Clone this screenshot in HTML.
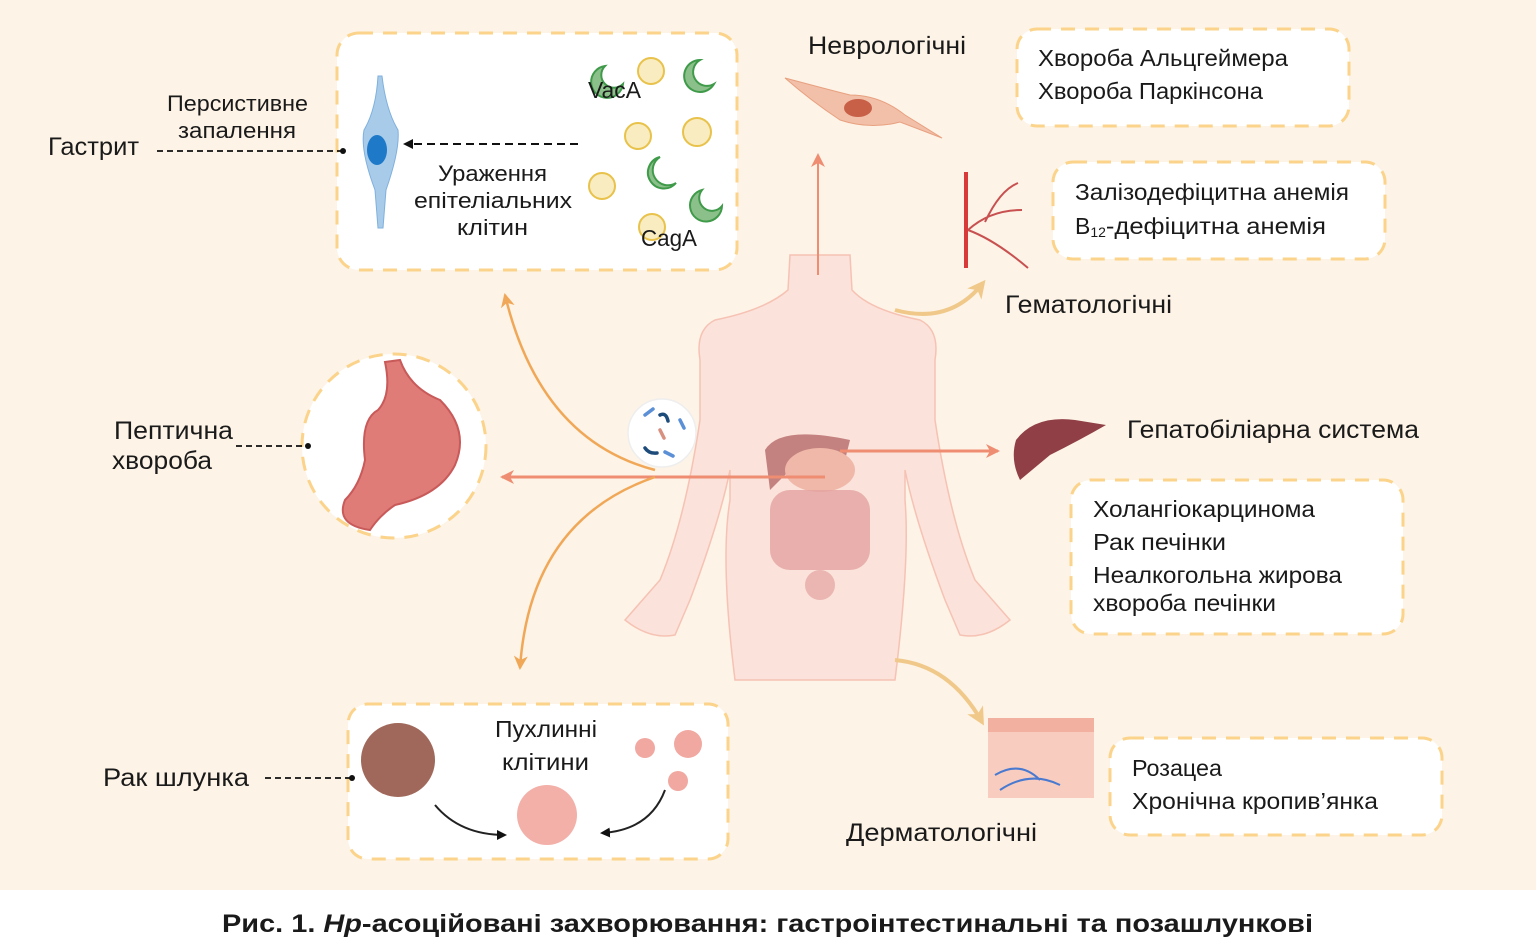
<!DOCTYPE html>
<html><head><meta charset="utf-8"><style>
html,body{margin:0;padding:0;width:1536px;height:940px;overflow:hidden;background:#fff}
svg{display:block}
text{font-family:"Liberation Sans","DejaVu Sans",sans-serif;fill:#1a1a1a}
</style></head><body>
<svg width="1536" height="940" viewBox="0 0 1536 940" xmlns="http://www.w3.org/2000/svg">
<defs>
<marker id="ab" markerWidth="10" markerHeight="10" refX="8" refY="5" orient="auto" markerUnits="userSpaceOnUse"><path d="M0,0 L10,5 L0,10 z" fill="#111"/></marker>
<marker id="ao" markerWidth="16" markerHeight="14" refX="12" refY="7" orient="auto" markerUnits="userSpaceOnUse"><path d="M0,0 L14,7 L0,14 L4,7 z" fill="#f0a858"/></marker>
<marker id="ar" markerWidth="16" markerHeight="14" refX="12" refY="7" orient="auto" markerUnits="userSpaceOnUse"><path d="M0,0 L14,7 L0,14 L4,7 z" fill="#ee8d72"/></marker>
<marker id="ay" markerWidth="20" markerHeight="18" refX="14" refY="9" orient="auto" markerUnits="userSpaceOnUse"><path d="M0,0 L18,9 L0,18 L5,9 z" fill="#f0c98a"/></marker>
</defs>
<rect x="0" y="0" width="1536" height="890" fill="#fdf3e6"/>

<!-- body -->
<g fill="#fbe2da" stroke="#f6c2b4" stroke-width="1.5">
<path d="M790,255 L850,255 L852,290 Q870,310 920,320 Q940,330 935,360 L935,420 Q950,520 975,580 L1010,620 Q985,640 960,635 L945,600 Q915,520 905,470 L905,500 Q910,560 895,680 L735,680 Q720,560 730,500 L730,470 Q720,520 690,600 L675,635 Q650,640 625,620 L660,580 Q685,520 700,420 L700,360 Q695,330 715,320 Q765,310 788,290 Z"/>
</g>
<path d="M765,450 Q780,425 850,440 L845,460 Q810,470 790,470 L770,490 Z" fill="#b8706e" opacity="0.85"/>
<ellipse cx="820" cy="470" rx="35" ry="22" fill="#f0b8a8"/>
<rect x="770" y="490" width="100" height="80" rx="20" fill="#e4a2a0" opacity="0.8"/>
<ellipse cx="820" cy="585" rx="15" ry="15" fill="#e4a2a0" opacity="0.7"/>

<!-- connector lines -->
<line x1="818" y1="275" x2="818" y2="155" stroke="#ee8d72" stroke-width="2" marker-end="url(#ar)"/>
<line x1="840" y1="451" x2="998" y2="451" stroke="#ee8d72" stroke-width="3" marker-end="url(#ar)"/>
<line x1="825" y1="477" x2="502" y2="477" stroke="#ee8d72" stroke-width="3" marker-end="url(#ar)"/>
<path d="M655,470 Q540,440 505,295" fill="none" stroke="#f0a858" stroke-width="2.5" marker-end="url(#ao)"/>
<path d="M655,477 Q530,520 520,668" fill="none" stroke="#f0a858" stroke-width="2.5" marker-end="url(#ao)"/>
<path d="M895,310 Q950,325 983,283" fill="none" stroke="#f0c98a" stroke-width="4" marker-end="url(#ay)"/>
<path d="M895,660 Q950,665 982,722" fill="none" stroke="#f0c98a" stroke-width="4" marker-end="url(#ay)"/>

<circle cx="662" cy="433" r="34" fill="#fff" stroke="#eee" stroke-width="1.5"/>
<g stroke-width="3.5" fill="none" stroke-linecap="round">
<path d="M645,415 l8,-6" stroke="#5b8fd6"/><path d="M680,420 l4,8" stroke="#5b8fd6"/><path d="M665,452 l8,4" stroke="#5b8fd6"/>
<path d="M660,415 q6,-3 8,6" stroke="#1d4c7a"/><path d="M645,448 q4,6 12,5" stroke="#1d4c7a"/><path d="M660,430 l4,8" stroke="#d89080"/>
</g>

<!-- top box -->
<rect x="337" y="33" width="400" height="237" rx="22" fill="#fff" stroke="#fbd38a" stroke-width="3" stroke-dasharray="14,10"/>
<path d="M382,76 Q386,110 398,130 Q400,150 386,190 L383,228 L378,228 L375,190 Q360,150 364,130 Q376,110 378,76 Z" fill="#a8cbea" stroke="#7fb0dc"/>
<ellipse cx="377" cy="150" rx="10" ry="15" fill="#1e7ac8"/>
<line x1="578" y1="144" x2="405" y2="144" stroke="#111" stroke-width="2" stroke-dasharray="8,5" marker-end="url(#ab)"/>
<g fill="#f9ecc0" stroke="#e8c24a" stroke-width="2">
<circle cx="651" cy="71" r="13"/><circle cx="638" cy="136" r="13"/><circle cx="697" cy="132" r="14"/><circle cx="602" cy="186" r="13"/><circle cx="652" cy="227" r="13"/>
</g>
<g fill="#8cc08a" stroke="#3f9a4a" stroke-width="2">
<path d="M605,66 a16,16 0 1,0 18,18 a9,9 0 0,1 -18,-18z"/>
<path d="M700,60 a16,16 0 1,0 14,24 a9,9 0 0,1 -14,-24z"/>
<path d="M660,157 a16,16 0 1,0 16,26 a9,9 0 0,1 -16,-26z"/>
<path d="M702,190 a16,16 0 1,0 20,16 a9,9 0 0,1 -20,-16z"/>
</g>
<g lengthAdjust="spacingAndGlyphs">
<text x="588" y="98" font-size="23" textLength="53" lengthAdjust="spacingAndGlyphs">VacA</text>
<text x="641" y="246" font-size="23" textLength="56" lengthAdjust="spacingAndGlyphs">CagA</text>
<text x="438" y="181" font-size="22" textLength="109" lengthAdjust="spacingAndGlyphs">Ураження</text>
<text x="414" y="208" font-size="22" textLength="158" lengthAdjust="spacingAndGlyphs">епітеліальних</text>
<text x="457" y="235" font-size="22" textLength="71" lengthAdjust="spacingAndGlyphs">клітин</text>
<text x="167" y="111" font-size="22" textLength="141" lengthAdjust="spacingAndGlyphs">Персистивне</text>
<text x="178" y="138" font-size="22" textLength="118" lengthAdjust="spacingAndGlyphs">запалення</text>
<text x="48" y="155" font-size="25" textLength="91" lengthAdjust="spacingAndGlyphs">Гастрит</text>
</g>
<line x1="157" y1="151" x2="343" y2="151" stroke="#111" stroke-width="1.8" stroke-dasharray="6,4"/>
<circle cx="343" cy="151" r="3" fill="#111"/>

<!-- stomach -->
<circle cx="394" cy="446" r="92" fill="#fff" stroke="#fbd38a" stroke-width="3" stroke-dasharray="14,10"/>
<path d="M385,362 Q392,395 378,410 Q360,420 365,460 Q360,485 345,500 Q335,525 370,530 Q380,515 395,505 Q440,495 455,465 Q470,430 440,400 Q410,388 400,360 Z" fill="#e07c78" stroke="#c85a5a" stroke-width="2"/>
<text x="114" y="439" font-size="25" textLength="119" lengthAdjust="spacingAndGlyphs">Пептична</text>
<text x="112" y="469" font-size="25" textLength="100" lengthAdjust="spacingAndGlyphs">хвороба</text>
<line x1="236" y1="446" x2="308" y2="446" stroke="#111" stroke-width="1.8" stroke-dasharray="6,4"/>
<circle cx="308" cy="446" r="3" fill="#111"/>

<!-- bottom box -->
<rect x="348" y="704" width="380" height="155" rx="20" fill="#fff" stroke="#fbd38a" stroke-width="3" stroke-dasharray="14,10"/>
<circle cx="398" cy="760" r="37" fill="#a0685a"/>
<circle cx="547" cy="815" r="30" fill="#f2b0a8"/>
<circle cx="645" cy="748" r="10" fill="#f0a8a0"/><circle cx="688" cy="744" r="14" fill="#f0a8a0"/><circle cx="678" cy="781" r="10" fill="#f0a8a0"/>
<path d="M435,805 Q460,835 505,835" fill="none" stroke="#222" stroke-width="2" marker-end="url(#ab)"/>
<path d="M665,790 Q650,830 602,833" fill="none" stroke="#222" stroke-width="2" marker-end="url(#ab)"/>
<text x="495" y="737" font-size="23" textLength="102" lengthAdjust="spacingAndGlyphs">Пухлинні</text>
<text x="502" y="770" font-size="23" textLength="87" lengthAdjust="spacingAndGlyphs">клітини</text>
<text x="103" y="786" font-size="25" textLength="146" lengthAdjust="spacingAndGlyphs">Рак шлунка</text>
<line x1="265" y1="778" x2="352" y2="778" stroke="#111" stroke-width="1.8" stroke-dasharray="6,4"/>
<circle cx="352" cy="778" r="3" fill="#111"/>

<!-- neuro -->
<path d="M785,78 Q830,90 850,95 Q880,95 905,115 L942,138 L900,122 Q870,130 840,120 Q810,100 785,78Z" fill="#f2c0a8" stroke="#e8a080"/>
<ellipse cx="858" cy="108" rx="14" ry="9" fill="#c86048"/>
<text x="808" y="54" font-size="25" textLength="158" lengthAdjust="spacingAndGlyphs">Неврологічні</text>
<rect x="1017" y="29" width="332" height="97" rx="20" fill="#fff" stroke="#fbd38a" stroke-width="3" stroke-dasharray="14,10"/>
<text x="1038" y="66" font-size="23" textLength="250" lengthAdjust="spacingAndGlyphs">Хвороба Альцгеймера</text>
<text x="1038" y="99" font-size="23" textLength="225" lengthAdjust="spacingAndGlyphs">Хвороба Паркінсона</text>

<!-- hemato -->
<line x1="966" y1="172" x2="966" y2="268" stroke="#d83a3a" stroke-width="4"/>
<path d="M968,230 Q990,210 1022,210 M968,230 Q995,240 1028,268 M985,222 Q1000,190 1018,183" fill="none" stroke="#c85050" stroke-width="2"/>
<text x="1005" y="313" font-size="25" textLength="167" lengthAdjust="spacingAndGlyphs">Гематологічні</text>
<rect x="1053" y="162" width="332" height="97" rx="20" fill="#fff" stroke="#fbd38a" stroke-width="3" stroke-dasharray="14,10"/>
<text x="1075" y="200" font-size="23" textLength="274" lengthAdjust="spacingAndGlyphs">Залізодефіцитна анемія</text>
<text x="1075" y="234" font-size="23">В<tspan font-size="14" dy="3">12</tspan><tspan dy="-3" textLength="220" lengthAdjust="spacingAndGlyphs">-дефіцитна анемія</tspan></text>

<!-- hepato -->
<path d="M1016,440 Q1035,415 1075,420 L1106,425 Q1080,440 1050,455 L1020,480 Q1010,460 1016,440Z" fill="#8f3f45"/>
<text x="1127" y="438" font-size="25" textLength="292" lengthAdjust="spacingAndGlyphs">Гепатобіліарна система</text>
<rect x="1071" y="480" width="332" height="154" rx="20" fill="#fff" stroke="#fbd38a" stroke-width="3" stroke-dasharray="14,10"/>
<text x="1093" y="517" font-size="23" textLength="222" lengthAdjust="spacingAndGlyphs">Холангіокарцинома</text>
<text x="1093" y="550" font-size="23" textLength="133" lengthAdjust="spacingAndGlyphs">Рак печінки</text>
<text x="1093" y="583" font-size="23" textLength="249" lengthAdjust="spacingAndGlyphs">Неалкогольна жирова</text>
<text x="1093" y="611" font-size="23" textLength="183" lengthAdjust="spacingAndGlyphs">хвороба печінки</text>

<!-- derm -->
<rect x="988" y="718" width="106" height="80" fill="#f8cdc0"/>
<rect x="988" y="718" width="106" height="14" fill="#f2b0a0"/>
<path d="M995,775 Q1020,760 1040,780 M1000,790 Q1030,770 1060,785" fill="none" stroke="#4a7ad0" stroke-width="2"/>
<text x="846" y="841" font-size="25" textLength="191" lengthAdjust="spacingAndGlyphs">Дерматологічні</text>
<rect x="1110" y="738" width="332" height="97" rx="20" fill="#fff" stroke="#fbd38a" stroke-width="3" stroke-dasharray="14,10"/>
<text x="1132" y="776" font-size="23" textLength="90" lengthAdjust="spacingAndGlyphs">Розацеа</text>
<text x="1132" y="809" font-size="23" textLength="246" lengthAdjust="spacingAndGlyphs">Хронічна кропив’янка</text>

<!-- caption -->
<text x="222" y="932" font-size="25" font-weight="bold" textLength="1091" lengthAdjust="spacingAndGlyphs">Рис. 1. <tspan font-style="italic">Hp</tspan>-асоційовані захворювання: гастроінтестинальні та позашлункові</text>
</svg>
</body></html>
